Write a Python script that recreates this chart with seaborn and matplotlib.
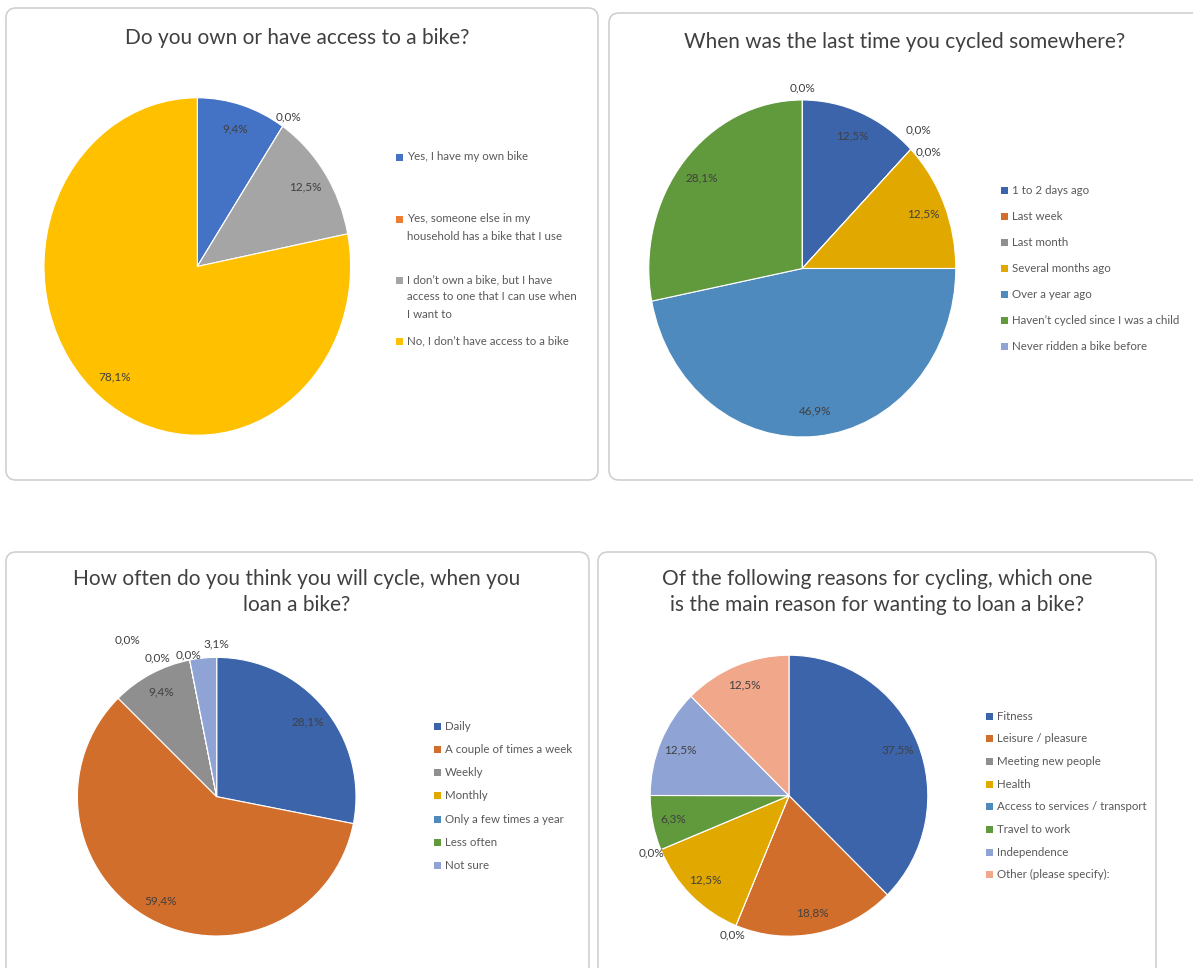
import numpy as np
import matplotlib
matplotlib.use("Agg")
import matplotlib.pyplot as plt
from matplotlib.patches import FancyBboxPatch, Rectangle
import seaborn as sns

# Datos de las cuatro preguntas
own_labels = ["Yes, I have my own bike",
              "Yes, someone else in my\nhousehold has a bike that I use",
              "I don\u2019t own a bike, but I have\naccess to one that I can use when\nI want to",
              "No, I don\u2019t have access to a bike"]
own_values = [9.4, 0.0, 12.5, 78.1]

last_labels = ["1 to 2 days ago", "Last week", "Last month", "Several months ago",
               "Over a year ago", "Haven\u2019t cycled since I was a child",
               "Never ridden a bike before"]
last_values = [12.5, 0.0, 0.0, 12.5, 46.9, 28.1, 0.0]

often_labels = ["Daily", "A couple of times a week", "Weekly", "Monthly",
                "Only a few times a year", "Less often", "Not sure"]
often_values = [28.1, 59.4, 9.4, 0.0, 0.0, 0.0, 3.1]

reason_labels = ["Fitness", "Leisure / pleasure", "Meeting new people", "Health",
                 "Access to services / transport", "Travel to work", "Independence",
                 "Other (please specify):"]
reason_values = [37.5, 18.8, 0.0, 12.5, 0.0, 6.3, 12.5, 12.5]

titles = ["Do you own or have access to a bike?",
          "When was the last time you cycled somewhere?",
          "How often do you think you will cycle, when you\nloan a bike?",
          "Of the following reasons for cycling, which one\nis the main reason for wanting to loan a bike?"]

pal_light = ["#4472C4", "#ED7D31", "#A5A5A5", "#FFC000"]
pal_dark = ["#3C64AA", "#D26E2B", "#8F8F8F", "#E1A900", "#4E8ABE", "#61993D",
            "#8FA3D5", "#F0A78A"]

sns.set_theme(style="white")
plt.rcParams["font.family"] = ["Lato", "DejaVu Sans"]

W, H = 1193, 968
fig = plt.figure(figsize=(W / 100, H / 100), dpi=100)
fig.patch.set_facecolor("white")

# capa de fondo en pixeles para bordes, titulos y leyendas
bg = fig.add_axes([0, 0, 1, 1])
bg.set_xlim(0, W)
bg.set_ylim(H, 0)
bg.axis("off")

for (x0, y0, x1, y1) in [(6, 8, 598, 480), (609, 13, 1205, 480),
                         (6, 552, 589, 990), (598, 552, 1156, 990)]:
    bg.add_patch(FancyBboxPatch((x0, y0), x1 - x0, y1 - y0,
                                boxstyle="round,pad=0,rounding_size=10",
                                fc="none", ec="#D0D0D0", lw=1.2))

# desplazamientos (px) para etiquetas 0,0% que caen juntas en el mismo borde
panels = [
    dict(values=own_values, labels=own_labels, colors=pal_light, title=titles[0],
         c=(197.3, 266.5), r=(153.3, 168.7), tx=297, ty=38,
         lx=396, ty_leg=[157, 219, 280, 341], line_h=17, zero_off=[(0, 0)]),
    dict(values=last_values, labels=last_labels, colors=pal_dark[:7], title=titles[1],
         c=(802.3, 268.5), r=(153.5, 168.5), tx=905, ty=42,
         lx=1001, ty_leg=[190 + 26.1 * i for i in range(7)], line_h=17,
         zero_off=[(0, -11), (10, 11)]),
    dict(values=often_values, labels=often_labels, colors=pal_dark[:7], title=titles[2],
         c=(216.7, 796.7), r=(139.3, 139.3), tx=297, ty=592,
         lx=434, ty_leg=[726 + 23.3 * i for i in range(7)], line_h=17,
         zero_off=[(1, 4), (-30, 7), (-60, -11)]),
    dict(values=reason_values, labels=reason_labels, colors=pal_dark, title=titles[3],
         c=(789, 795.7), r=(138.8, 140.5), tx=877, ty=592,
         lx=986, ty_leg=[716 + 22.7 * i for i in range(8)], line_h=17, zero_off=[(0, 0)]),
]

for p in panels:
    cx, cy = p["c"]
    rx, ry = p["r"]
    ax = fig.add_axes([(cx - rx) / W, 1 - (cy + ry) / H, 2 * rx / W, 2 * ry / H])
    wedges, _ = ax.pie(p["values"], colors=p["colors"], startangle=90,
                       counterclock=False, radius=1,
                       wedgeprops=dict(edgecolor="white", linewidth=0.8))
    ax.set_aspect("auto")
    ax.set_xlim(-1, 1)
    ax.set_ylim(-1, 1)
    ax.axis("off")

    # cuantas etiquetas 0,0% comparten cada borde
    zero_angles = [round(w.theta1 % 360, 3) for w, v in zip(wedges, p["values"]) if v == 0]
    seen = {}

    for w, v in zip(wedges, p["values"]):
        txt = f"{v:.1f}%".replace(".", ",")
        off = (0, 0)
        if v == 0:
            ang = w.theta1
            key = round(ang % 360, 3)
            k = seen.get(key, 0)
            seen[key] = k + 1
            if zero_angles.count(key) > 1:
                off = p["zero_off"][min(k, len(p["zero_off"]) - 1)]
            dist = 1.07
        elif v < 4:
            ang = w.theta1
            dist = 1.1
        else:
            ang = 0.5 * (w.theta1 + w.theta2)
            dist = 0.85
        a = np.deg2rad(ang)
        ax.annotate(txt, (dist * np.cos(a), dist * np.sin(a)),
                    xytext=(off[0] * 0.72, -off[1] * 0.72), textcoords="offset points",
                    ha="center", va="center", fontsize=8.5, color="#404040",
                    annotation_clip=False)

    # titulo
    bg.text(p["tx"], p["ty"], p["title"], ha="center", va="center", fontsize=15,
            color="#404040", linespacing=1.35)

    # leyenda
    for lab, col, y in zip(p["labels"], p["colors"], p["ty_leg"]):
        bg.add_patch(Rectangle((p["lx"], y - 3.5), 7, 7, fc=col, ec="none"))
        for i, line in enumerate(lab.split("\n")):
            bg.text(p["lx"] + 11, y + i * p["line_h"], line, ha="left", va="center",
                    fontsize=8.3, color="#595959")

fig.savefig("out.png", dpi=100, facecolor="white")
